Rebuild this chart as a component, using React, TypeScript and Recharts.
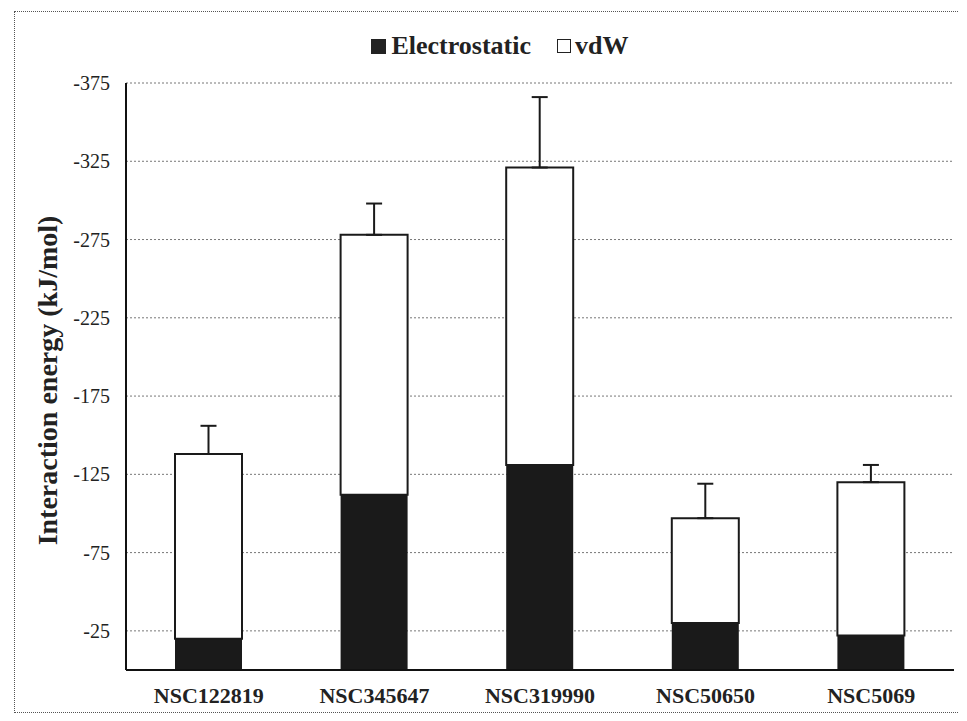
import { BarChart, Bar, XAxis, YAxis, CartesianGrid, Legend, ErrorBar } from 'recharts';

const compounds = ['NSC122819', 'NSC345647', 'NSC319990', 'NSC50650', 'NSC5069'];
const electrostatic = [-20, -112, -131, -30, -22];
const vdw = [-118, -166, -190, -67, -98];
const totalError = [18, 20, 45, 22, 11];
const yTicks = [-25, -75, -125, -175, -225, -275, -325, -375];

const FONT = "'Liberation Serif', 'Times New Roman', serif";

// error only goes "up" (towards more negative energy)
const chartData = compounds.map((name, i) => ({
  name,
  electrostatic: electrostatic[i],
  vdw: vdw[i],
  err: [totalError[i], 0],
}));

const LegendContent = () => (
  <div
    style={{
      height: 50,
      display: 'flex',
      justifyContent: 'center',
      alignItems: 'flex-start',
      paddingLeft: 38,
      fontFamily: FONT,
      fontWeight: 'bold',
      fontSize: 26,
      lineHeight: '26px',
      color: '#222',
    }}
  >
    <span style={{ display: 'flex', alignItems: 'center', marginRight: 26 }}>
      <span style={{ width: 15, height: 15, background: '#222', marginRight: 5 }} />
      Electrostatic
    </span>
    <span style={{ display: 'flex', alignItems: 'center' }}>
      <span style={{ width: 12, height: 12, border: '1.5px solid #222', background: '#fff', marginRight: 4 }} />
      vdW
    </span>
  </div>
);

export default function App() {
  return (
    <div style={{ position: 'relative', width: 951, height: 705, background: '#fff' }}>
      <div
        style={{
          position: 'absolute',
          left: 6,
          top: 3,
          width: 945,
          height: 700,
          borderTop: '1px dotted #555',
          borderLeft: '1px dotted #555',
          borderBottom: '1px dotted #555',
        }}
      />
      <BarChart
        width={951}
        height={705}
        data={chartData}
        margin={{ top: 25, right: 5, left: 0, bottom: 13 }}
        style={{ position: 'absolute', left: 0, top: 0 }}
      >
        <CartesianGrid vertical={false} stroke="#777" strokeDasharray="2 2" />
        <Legend verticalAlign="top" content={<LegendContent />} />
        <XAxis
          dataKey="name"
          height={30}
          axisLine={{ stroke: '#111', strokeWidth: 2 }}
          tickLine={false}
          tickSize={6}
          tickMargin={11}
          tick={{ fill: '#222', fontFamily: FONT, fontWeight: 'bold', fontSize: 22 }}
        />
        <YAxis
          width={118}
          reversed
          domain={[-375, 0]}
          ticks={yTicks}
          allowDataOverflow
          axisLine={{ stroke: '#111', strokeWidth: 2 }}
          tickLine={false}
          tickSize={6}
          tickMargin={10}
          tick={{ fill: '#222', fontFamily: FONT, fontSize: 20 }}
          label={{
            value: 'Interaction energy (kJ/mol)',
            angle: -90,
            position: 'center',
            dx: -20,
            dy: 4,
            style: { fill: '#222', fontFamily: FONT, fontWeight: 'bold', fontSize: 28, textAnchor: 'middle' },
          }}
        />
        <Bar dataKey="electrostatic" stackId="e" fill="#1a1a1a" barSize={67} isAnimationActive={false} />
        <Bar
          dataKey="vdw"
          stackId="e"
          fill="#fff"
          stroke="#1a1a1a"
          strokeWidth={2}
          barSize={67}
          isAnimationActive={false}
        >
          <ErrorBar dataKey="err" width={8} stroke="#1a1a1a" strokeWidth={2} direction="y" />
        </Bar>
      </BarChart>
    </div>
  );
}
